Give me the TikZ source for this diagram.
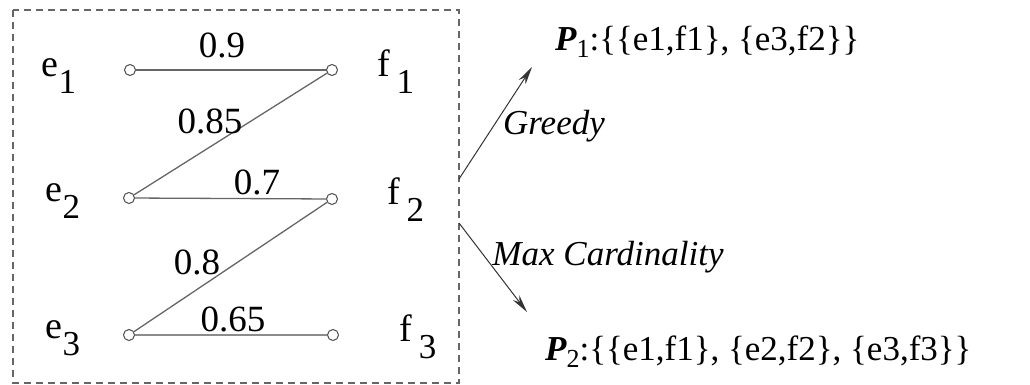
\documentclass[tikz,border=0pt]{standalone}
\usepackage{fontspec}
\setmainfont{Liberation Serif}
\usetikzlibrary{arrows.meta}
\begin{document}
\begin{tikzpicture}[x=1pt,y=-1pt,
  every node/.style={font=\fontsize{35}{40}\selectfont, inner sep=0pt},
  vtx/.style={circle,draw=black!70,fill=white,line width=1pt,minimum size=11pt,inner sep=0pt},
  edge/.style={draw=black!60,line width=1.3pt},
  wlab/.style={font=\fontsize{37}{42}\selectfont},
  vlab/.style={font=\fontsize{38}{42}\selectfont},
  arr/.style={draw=black!80,line width=1pt,-{Stealth[length=18pt,width=8pt]}}]
\newcommand{\vsub}[1]{\raisebox{-0.45em}{\fontsize{35}{40}\selectfont #1}}
\useasboundingbox (0,0) rectangle (1030,385);
\draw[black!60,line width=1.2pt,dash pattern=on 7pt off 5pt] (13,10) rectangle (459,383);
% vertices
\node[vtx] (v1) at (130,70) {};
\node[vtx] (v2) at (129,198) {};
\node[vtx] (v3) at (129,335) {};
\node[vtx] (u1) at (332,70) {};
\node[vtx] (u2) at (332,199) {};
\node[vtx] (u3) at (333,335) {};
% labels
\node[vlab] (le1) at (59,76) {e\vsub{1}};
\node[vlab] (le2) at (63,201) {e\vsub{2}};
\node[vlab] (le3) at (63,338) {e\vsub{3}};
\node[vlab] (lf1) at (396,72) {f\,\vsub{1}};
\node[vlab] (lf2) at (406,200) {f\,\vsub{2}};
\node[vlab] (lf3) at (418,337) {f\,\vsub{3}};
% edges
\draw[edge] (v1) -- (u1);
\draw[edge] (u1) -- (v2);
\draw[edge] (v2) -- (u2);
\draw[edge] (u2) -- (v3);
\draw[draw=black!45,line width=2pt] (v3) -- (u3);
% weights
\node[wlab] (w1) at (222,45) {0.9};
\node[wlab] (w2) at (210,121) {0.85};
\node[wlab] (w3) at (257,182) {0.7};
\node[wlab] (w4) at (197,262) {0.8};
\node[wlab] (w5) at (233,319) {0.65};
% arrows
\coordinate (a1s) at (459,179);
\coordinate (a1e) at (532,67);
\coordinate (a2s) at (459,223);
\coordinate (a2e) at (527,312);
\draw[arr] (a1s) -- (a1e);
\draw[arr] (a2s) -- (a2e);
\node (g) at (554,126) {\itshape Greedy};
\node (mc) at (608,257) {\itshape Max Cardinality};
\node[anchor=west] (p1) at (555,42) {{\bfseries\itshape P}\raisebox{-0.2em}{\fontsize{26}{30}\selectfont 1}:\{\{e1,f1\}, \{e3,f2\}\}};
\node[anchor=west] (p2) at (545,352) {{\bfseries\itshape P}\raisebox{-0.2em}{\fontsize{26}{30}\selectfont 2}:\{\{e1,f1\}, \{e2,f2\}, \{e3,f3\}\}};
\end{tikzpicture}
\end{document}
